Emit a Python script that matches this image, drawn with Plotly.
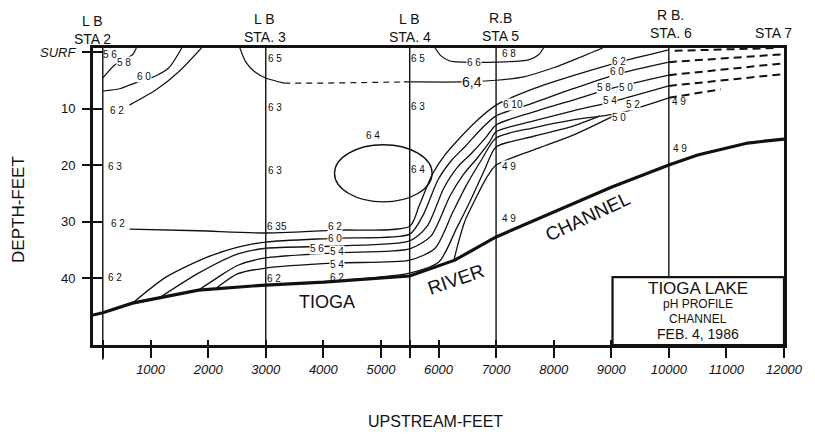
import plotly.graph_objects as go

FONT = "Liberation Sans"
INK = "#111111"

# ---------------- stations along the channel (feet upstream) ----------------
STATION_FT = [170, 3000, 5500, 7000, 10000, 12000]
STATION_NAME = ["STA 2", "STA. 3", "STA. 4", "STA 5", "STA. 6", "STA 7"]
STATION_BANK = ["L B", "L B", "L B", "R.B", "R B.", ""]

X_TICK_FT = [1000, 2000, 3000, 4000, 5000, 6000, 7000, 8000, 9000, 10000, 11000, 12000]
Y_TICK_DEPTH = [0, 10, 20, 30, 40]
Y_TICK_TEXT = ["<i>SURF</i>", "10", "20", "30", "40"]

SURFACE_D = -0.7   # depth of the drawn surface line
FLOOR_D = 51.8     # depth at the lower frame

# ---------------- channel floor ----------------
CHANNEL_FT = [0, 170, 685, 1832, 3000, 4006, 5500, 6283, 7000, 9000, 10000, 10500, 11370, 12000]
CHANNEL_D = [46.5, 46.1, 44.4, 42.1, 41.2, 40.7, 39.6, 36.8, 32.7, 23.9, 20.0, 18.2, 16.1, 15.4]

# ---------------- pH isolines near STA 2 ----------------
PH58_FT = [171, 377, 685, 753]
PH58_D = [4.6, 2.3, 0.5, -0.7]
PH60_FT = [171, 462, 700, 1096, 1318, 1541]
PH60_D = [6.9, 6.5, 5.6, 4.2, 2.8, -0.7]
PH62_FT = [633, 1096, 1489, 1883]
PH62_D = [9.4, 6.7, 3.5, -0.7]

# ---------------- 6.4 and 6.6 isolines near the surface ----------------
PH64_FT = [2551, 2654, 2808, 3000, 3321, 4057, 5400, 5500, 6420, 7000, 7481, 7995, 8423, 8851]
PH64_D = [-0.7, 1.8, 3.5, 4.6, 5.5, 5.5, 5.3, 5.3, 5.3, 5.0, 4.4, 2.8, 1.1, -0.7]
PH64_DASHED = (4, 7)   # index span drawn dashed
PH66_FT = [5941, 6043, 6197, 6420, 7000, 7567, 7738, 7824]
PH66_D = [-0.7, 0.7, 1.6, 1.8, 1.8, 1.4, 0.5, -0.7]

# ---------------- isoline band rising from STA 3 toward STA 6 ----------------
B1_FT = [633, 1832, 3000, 4229, 5500, 5667, 5889, 6112, 6334, 6660, 7000, 7653, 8337, 9142, 10000]
B1_D = [31.3, 31.6, 32.0, 31.5, 30.8, 27.1, 21.7, 18.2, 15.6, 12.2, 9.4, 6.5, 4.2, 1.8, -0.35]
B2_FT = [685, 1267, 1952, 2517, 3000, 4229, 5500, 5735, 5992, 6232, 6454, 6762, 7000, 7653, 8337, 9108, 10000]
B2_D = [44.4, 39.8, 36.4, 34.5, 33.6, 32.9, 32.2, 28.8, 22.6, 19.1, 16.8, 13.4, 11.3, 9.0, 6.5, 3.9, 1.8]
B3_FT = [1147, 1832, 2517, 3000, 4229, 5500, 5804, 6095, 6334, 6574, 6831, 7000, 7653, 8337, 9022, 10000]
B3_D = [43.5, 39.1, 35.7, 34.7, 34.3, 33.4, 30.8, 24.0, 20.3, 17.9, 15.0, 12.9, 10.6, 8.5, 6.4, 4.1]
B4_FT = [1832, 2174, 2517, 3000, 4229, 5500, 5872, 6197, 6437, 6677, 6882, 7000, 7653, 8337, 8971, 10000]
B4_D = [42.1, 39.8, 37.7, 36.4, 35.5, 34.8, 32.5, 25.5, 21.6, 18.7, 16.0, 14.1, 12.2, 10.4, 8.9, 6.0]
B5_FT = [2123, 2517, 3000, 4229, 5500, 5941, 6249, 6488, 6745, 7000, 7653, 8337, 9142, 10000]
B5_D = [41.9, 39.2, 38.2, 37.3, 36.8, 34.7, 28.3, 23.5, 19.1, 15.2, 13.4, 12.0, 10.8, 8.1]
B6_FT = [4400, 5500, 6009, 6317, 6557, 6797, 7000, 7653, 8337, 8800]
B6_D = [40.3, 39.1, 37.1, 31.1, 26.2, 20.9, 16.8, 14.9, 13.1, 11.3]
B7_FT = [6266, 6334, 6454, 6660, 6831, 7000, 7653, 8337, 9142]
B7_D = [36.9, 34.1, 30.0, 25.6, 22.3, 20.0, 17.3, 14.7, 10.8]

# inferred continuation upstream of STA 6
DASH_FT = [[10100, 11850], [10000, 12000], [10000, 12000], [10000, 12000], [10000, 10900]]
DASH_D = [[-0.2, -0.7], [1.8, 0.4], [4.1, 2.0], [6.0, 3.9], [8.1, 6.6]]

# closed 6.4 pocket and title block
ELLIPSE_FT = [4194, 5889]
ELLIPSE_D = [16.4, 26.5]
BOX_FT = [9022, 12000]
BOX_TOP_D = 39.8

# pH readings written across isolines
LINE_LABEL_TEXT = ["5 8", "6 0", "6 2", "6 0", "5 6", "5 4", "5 4", "6 6", "6 10", "4 9",
                   "6 2", "6 0", "5 8", "5 0", "5 4", "5 2", "5 0"]
LINE_LABEL_FT = [531, 890, 4194, 4194, 3886, 4229, 4229, 6620, 7293, 7225,
                 9142, 9108, 8868, 9262, 8971, 9382, 9142]
LINE_LABEL_D = [1.8, 4.4, 30.9, 32.9, 34.7, 35.3, 37.5, 1.8, 9.2, 20.3,
                1.6, 3.5, 6.2, 6.2, 8.5, 9.2, 11.5]

# pH readings at the stations
STA_LABEL_TEXT = ["5 6", "6 2", "6 3", "6 2", "6 2",
                  "6 5", "6 3", "6 3", "6 35", "6 2",
                  "6 5", "6 3", "6 4", "6 4",
                  "6 8", "4 9", "4 9", "4 9", "6 2"]
STA_LABEL_FT = [291, 411, 377, 428, 377,
                3167, 3167, 3167, 3200, 3150,
                5650, 5650, 5650, 4862,
                7225, 7225, 10169, 10186, 4229]
STA_LABEL_D = [0.5, 10.3, 20.3, 30.4, 39.8,
               1.2, 9.9, 21.0, 30.9, 40.0,
               1.1, 9.7, 20.7, 14.7,
               0.3, 29.5, 8.7, 17.1, 39.8]

MAIN_LABEL = ("6,4", 6590, 5.3)

fig = go.Figure()


def isoline(xs, ys, width=1.2, dash="solid", shape="spline"):
    fig.add_trace(go.Scatter(
        x=xs, y=ys, mode="lines", hoverinfo="skip", showlegend=False,
        line=dict(color=INK, width=width, dash=dash, shape=shape, smoothing=0.7),
    ))


# channel floor
isoline(CHANNEL_FT, CHANNEL_D, width=3.2, shape="linear")

for xs, ys in [(PH58_FT, PH58_D), (PH60_FT, PH60_D), (PH62_FT, PH62_D), (PH66_FT, PH66_D)]:
    isoline(xs, ys)

a, b = PH64_DASHED
isoline(PH64_FT[:a + 1], PH64_D[:a + 1])
isoline(PH64_FT[a:b], PH64_D[a:b], dash="6px,5px", shape="linear")
isoline(PH64_FT[b - 1:], PH64_D[b - 1:])

for xs, ys in [(B1_FT, B1_D), (B2_FT, B2_D), (B3_FT, B3_D), (B4_FT, B4_D),
               (B5_FT, B5_D), (B6_FT, B6_D), (B7_FT, B7_D)]:
    isoline(xs, ys, width=1.3)

for xs, ys in zip(DASH_FT, DASH_D):
    isoline(xs, ys, width=2.0, dash="8px,5px", shape="linear")

# overlay axes carry the inward halves of the tick marks
fig.add_trace(go.Scatter(x=[None], y=[None], xaxis="x2", yaxis="y2",
                         showlegend=False, hoverinfo="skip"))

shapes = []
for i, ft in enumerate(STATION_FT[:-1]):
    if ft >= BOX_FT[0]:
        shapes.append(dict(type="line", xref="x", yref="y", x0=ft, x1=ft,
                           y0=SURFACE_D, y1=BOX_TOP_D, line=dict(color=INK, width=1.4)))
    else:
        shapes.append(dict(type="line", xref="x", yref="paper", x0=ft, x1=ft,
                           y0=-0.05 if i == 0 else 0, y1=1, line=dict(color=INK, width=1.4)))
shapes.append(dict(type="circle", xref="x", yref="y",
                   x0=ELLIPSE_FT[0], x1=ELLIPSE_FT[1], y0=ELLIPSE_D[0], y1=ELLIPSE_D[1],
                   line=dict(color=INK, width=1.4)))
shapes.append(dict(type="rect", xref="x", yref="y",
                   x0=BOX_FT[0], x1=BOX_FT[1], y0=BOX_TOP_D, y1=FLOOR_D,
                   fillcolor="white", line=dict(color=INK, width=2.2), layer="above"))

ann = []
# station headers
HEADER_XSHIFT = [-10, -1, 0, 4, 2, -11]
HEADER_YSHIFT = [-2, 0, 0, 1, 4, 4]
for ft, name, bank, dx, dy in zip(STATION_FT, STATION_NAME, STATION_BANK, HEADER_XSHIFT, HEADER_YSHIFT):
    ann.append(dict(x=ft, y=1.037, xref="x", yref="paper", text=name, showarrow=False,
                    xanchor="center", yanchor="middle", xshift=dx, yshift=dy,
                    font=dict(family=FONT, size=14, color=INK)))
    if bank:
        ann.append(dict(x=ft, y=1.097, xref="x", yref="paper", text=bank, showarrow=False,
                        xanchor="center", yanchor="middle", xshift=dx, yshift=dy,
                        font=dict(family=FONT, size=14, color=INK)))

for t, x, y in zip(LINE_LABEL_TEXT, LINE_LABEL_FT, LINE_LABEL_D):
    ann.append(dict(x=x, y=y, text=t, showarrow=False, bgcolor="white", borderpad=0,
                    font=dict(family=FONT, size=10, color=INK)))
for t, x, y in zip(STA_LABEL_TEXT, STA_LABEL_FT, STA_LABEL_D):
    ann.append(dict(x=x, y=y, text=t, showarrow=False,
                    font=dict(family=FONT, size=10, color=INK)))
ann.append(dict(x=MAIN_LABEL[1], y=MAIN_LABEL[2], text=MAIN_LABEL[0], showarrow=False,
                bgcolor="white", borderpad=0, font=dict(family=FONT, size=14, color=INK)))

# channel names
ann.append(dict(x=4057, y=44.2, text="TIOGA", showarrow=False,
                font=dict(family=FONT, size=18, color=INK)))
ann.append(dict(x=6300, y=40.3, text="RIVER", showarrow=False, textangle=-19,
                font=dict(family=FONT, size=19, color=INK)))
ann.append(dict(x=8594, y=29.0, text="CHANNEL", showarrow=False, textangle=-25,
                font=dict(family=FONT, size=19, color=INK)))

# title block
box_cx = (BOX_FT[0] + BOX_FT[1]) / 2
for text, d, size in [("TIOGA LAKE", 41.9, 17), ("pH PROFILE", 44.6, 12),
                      ("CHANNEL", 47.2, 12), ("FEB. 4, 1986", 49.9, 14)]:
    ann.append(dict(x=box_cx, y=d, text=text, showarrow=False,
                    font=dict(family=FONT, size=size, color=INK)))

# axis titles
ann.append(dict(x=-0.107, y=0.455, xref="paper", yref="paper", text="DEPTH-FEET",
                xanchor="center", yanchor="middle", textangle=-90, showarrow=False,
                font=dict(family=FONT, size=17, color=INK)))
ann.append(dict(x=0.495, y=-0.256, xref="paper", yref="paper", text="UPSTREAM-FEET",
                xanchor="center", yanchor="middle", showarrow=False,
                font=dict(family=FONT, size=16, color=INK)))

x_tickvals = [STATION_FT[0]] + X_TICK_FT + [STATION_FT[2]]
x_ticktext = [""] + [str(v) for v in X_TICK_FT] + [""]

fig.update_layout(
    width=815, height=434,
    margin=dict(l=93, r=21, t=48, b=89),
    paper_bgcolor="white", plot_bgcolor="white",
    showlegend=False,
    shapes=shapes,
    annotations=ann,
    xaxis=dict(range=[0, 12000], tickvals=x_tickvals, ticktext=x_ticktext,
               ticks="outside", ticklen=10, tickwidth=1.6, tickcolor=INK,
               showline=True, linewidth=3, linecolor=INK, mirror=True,
               showgrid=False, zeroline=False, ticklabelstandoff=0,
               tickfont=dict(family=FONT, size=13, color=INK, style="italic")),
    yaxis=dict(range=[FLOOR_D, SURFACE_D], tickvals=Y_TICK_DEPTH, ticktext=Y_TICK_TEXT,
               ticks="outside", ticklen=8, tickwidth=1.6, tickcolor=INK,
               showline=True, linewidth=3, linecolor=INK, mirror=True,
               showgrid=False, zeroline=False, ticklabelstandoff=4,
               tickfont=dict(family=FONT, size=13, color=INK)),
    xaxis2=dict(overlaying="x", anchor="y2", range=[0, 12000], tickvals=x_tickvals,
                ticks="inside", ticklen=5, tickwidth=1.6, tickcolor=INK,
                showticklabels=False, showline=False, showgrid=False, zeroline=False),
    yaxis2=dict(overlaying="y", anchor="x2", range=[FLOOR_D, SURFACE_D], tickvals=Y_TICK_DEPTH,
                ticks="inside", ticklen=10, tickwidth=1.6, tickcolor=INK,
                showticklabels=False, showline=False, showgrid=False, zeroline=False),
)

fig.write_html("out.html")
